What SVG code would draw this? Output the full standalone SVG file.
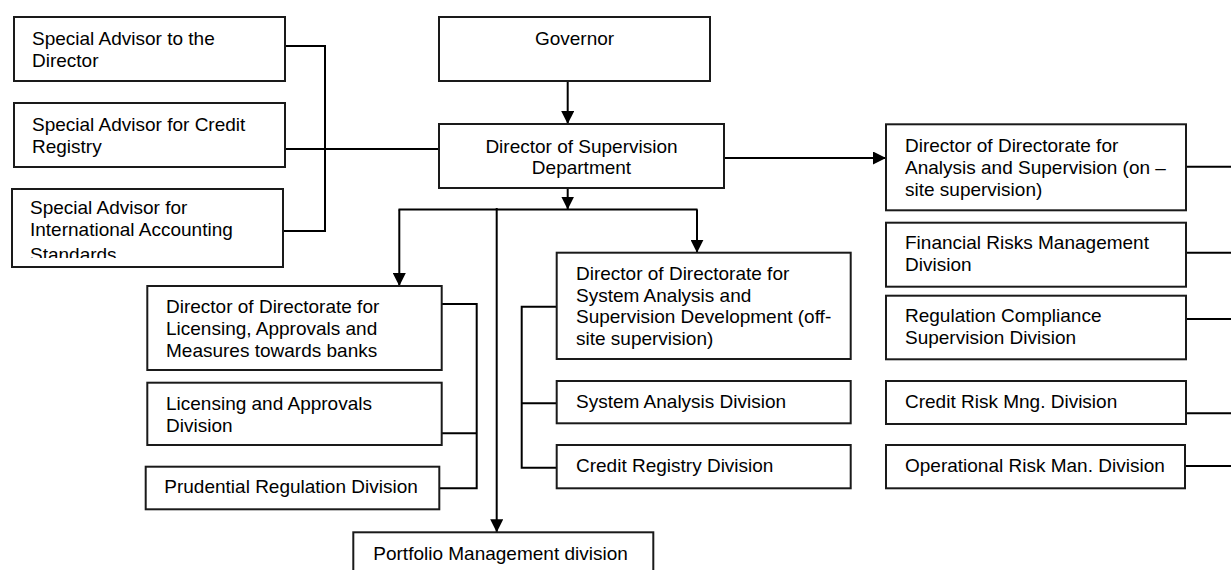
<svg xmlns="http://www.w3.org/2000/svg" width="1231" height="570" viewBox="0 0 1231 570">
<style>
  .box { fill: #ffffff; stroke: #1a1a1a; stroke-width: 2; }
  .t { font-family: "Liberation Sans", Arial, sans-serif; font-size: 19px; fill: #000000; }
  .c { text-anchor: middle; }
  .ln { fill: none; stroke: #000000; stroke-width: 2; }
</style>
<defs>
  <marker id="ah" markerUnits="userSpaceOnUse" markerWidth="13" markerHeight="13" refX="13" refY="6.5" orient="auto">
    <path d="M0,0 L13,6.5 L0,13 z" fill="#000000"/>
  </marker>
  <clipPath id="clip3"><rect x="12" y="189" width="271" height="69"/></clipPath>
</defs>
<rect width="1231" height="570" fill="#ffffff"/>

<g id="connectors">
  <path class="ln" d="M285 46 H325 V231 H283"/>
  <path class="ln" d="M285 149 H439"/>
  <path class="ln" d="M567.7 81 V124" marker-end="url(#ah)"/>
  <path class="ln" d="M567.7 188 V209.5" marker-end="url(#ah)"/>
  <path class="ln" d="M398.5 209.5 H697.5"/>
  <path class="ln" d="M697 209.5 V252.7" marker-end="url(#ah)"/>
  <path class="ln" d="M399.3 209.5 V286" marker-end="url(#ah)"/>
  <path class="ln" d="M496.7 208 V532.3" marker-end="url(#ah)"/>
  <path class="ln" d="M724 158 H886" marker-end="url(#ah)"/>
  <path class="ln" d="M1186 166.7 H1231"/>
  <path class="ln" d="M1186 252.7 H1231"/>
  <path class="ln" d="M1186 319 H1231"/>
  <path class="ln" d="M1186 413.3 H1231"/>
  <path class="ln" d="M1185 466 H1231"/>
  <path class="ln" d="M441.7 304 H476.7 V488.3 H439.3"/>
  <path class="ln" d="M441.7 433.3 H476.7"/>
  <path class="ln" d="M556.7 306.7 H521.7 V467.7 H556.7"/>
  <path class="ln" d="M521.7 403.3 H556.7"/>
</g>

<g id="advisor-director">
  <rect class="box" x="14" y="17" width="271" height="64"/>
  <text class="t" x="32" y="45">Special Advisor to the</text>
  <text class="t" x="32" y="67">Director</text>
</g>
<g id="advisor-credit-registry">
  <rect class="box" x="14" y="103" width="271" height="64"/>
  <text class="t" x="32" y="131">Special Advisor for Credit</text>
  <text class="t" x="32" y="152.7">Registry</text>
</g>
<g id="advisor-ias">
  <rect class="box" x="12" y="189" width="271" height="78"/>
  <g clip-path="url(#clip3)">
    <text class="t" x="30" y="213.5">Special Advisor for</text>
    <text class="t" x="30" y="236">International Accounting</text>
    <text class="t" x="30" y="260.5">Standards</text>
  </g>
</g>
<g id="governor">
  <rect class="box" x="439" y="17" width="271" height="64"/>
  <text class="t c" x="574.5" y="45">Governor</text>
</g>
<g id="director-supervision">
  <rect class="box" x="439" y="124" width="285" height="64"/>
  <text class="t c" x="581.5" y="152.5">Director of Supervision</text>
  <text class="t c" x="581.5" y="174">Department</text>
</g>
<g id="director-onsite">
  <rect class="box" x="886" y="124.3" width="300" height="86"/>
  <text class="t" x="905" y="152">Director of Directorate for</text>
  <text class="t" x="905" y="174">Analysis and Supervision (on –</text>
  <text class="t" x="905" y="195.7">site supervision)</text>
</g>
<g id="financial-risks">
  <rect class="box" x="886" y="222.7" width="300" height="64"/>
  <text class="t" x="905" y="248.5">Financial Risks Management</text>
  <text class="t" x="905" y="270.5">Division</text>
</g>
<g id="regulation-compliance">
  <rect class="box" x="886" y="295.7" width="300" height="63.6"/>
  <text class="t" x="905" y="321.7">Regulation Compliance</text>
  <text class="t" x="905" y="344">Supervision Division</text>
</g>
<g id="credit-risk">
  <rect class="box" x="886" y="381" width="300" height="43"/>
  <text class="t" x="905" y="408.3">Credit Risk Mng. Division</text>
</g>
<g id="operational-risk">
  <rect class="box" x="886" y="445" width="299" height="43.3"/>
  <text class="t" x="905" y="471.7">Operational Risk Man. Division</text>
</g>
<g id="director-offsite">
  <rect class="box" x="556.7" y="252.7" width="294" height="106.3"/>
  <text class="t" x="576" y="280">Director of Directorate for</text>
  <text class="t" x="576" y="301.7">System Analysis and</text>
  <text class="t" x="576" y="323.3">Supervision Development (off-</text>
  <text class="t" x="576" y="345">site supervision)</text>
</g>
<g id="system-analysis">
  <rect class="box" x="556.7" y="381" width="294" height="42.3"/>
  <text class="t" x="576" y="408.3">System Analysis Division</text>
</g>
<g id="credit-registry">
  <rect class="box" x="556.7" y="445" width="294" height="43.3"/>
  <text class="t" x="576" y="471.7">Credit Registry Division</text>
</g>
<g id="director-licensing">
  <rect class="box" x="147.3" y="286" width="294.4" height="84"/>
  <text class="t" x="166" y="313.3">Director of Directorate for</text>
  <text class="t" x="166" y="335">Licensing, Approvals and</text>
  <text class="t" x="166" y="356.7">Measures towards banks</text>
</g>
<g id="licensing-division">
  <rect class="box" x="147.3" y="382.7" width="294.4" height="62.3"/>
  <text class="t" x="166" y="410">Licensing and Approvals</text>
  <text class="t" x="166" y="431.7">Division</text>
</g>
<g id="prudential">
  <rect class="box" x="145.7" y="466.7" width="293.6" height="42.6"/>
  <text class="t" x="164.3" y="493.3">Prudential Regulation Division</text>
</g>
<g id="portfolio">
  <rect class="box" x="353.3" y="532.3" width="300" height="60"/>
  <text class="t" x="373.3" y="560">Portfolio Management division</text>
</g>
</svg>
